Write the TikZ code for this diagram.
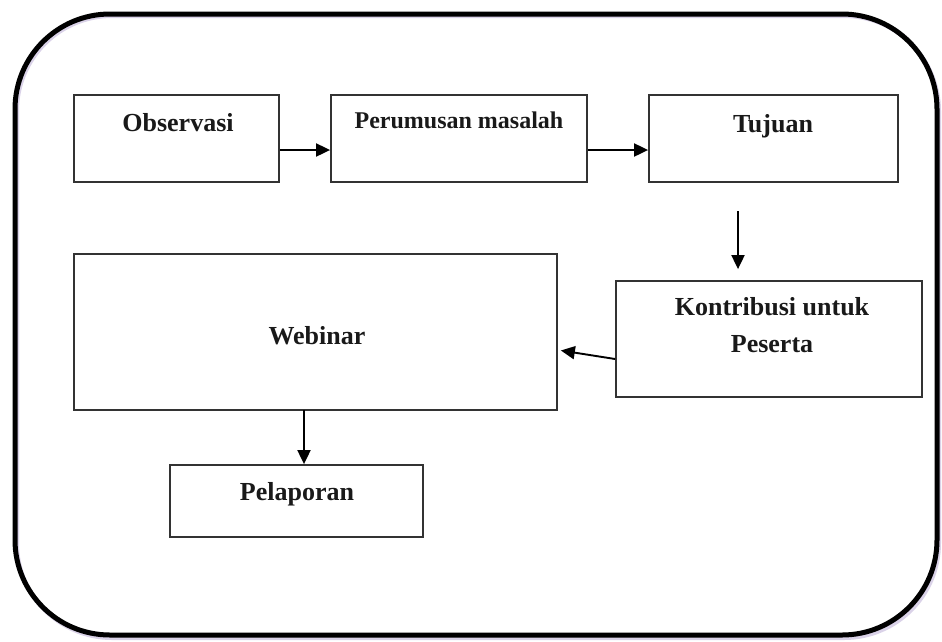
\documentclass[tikz,border=0pt]{standalone}
\usepackage{fontspec}
\setmainfont{Liberation Serif}
\usetikzlibrary{arrows.meta}
\tikzset{
  x=1pt, y=-1pt,
  box/.style={draw=black!80, line width=1.8pt, rectangle, inner sep=0pt},
  txt/.style={font=\bfseries\fontsize{26}{30}\selectfont, anchor=base, inner sep=0pt, text=black!90},
  arr/.style={draw=black, line width=1.9pt, -{Triangle[length=14pt,width=13pt]}},
  frame/.style={draw=black, line width=5pt, rounded corners=95pt},
}
\begin{document}
\begin{tikzpicture}
\useasboundingbox (0,0) rectangle (942,641);
% outer frame with faint shadow
\draw[draw={rgb,255:red,218;green,210;blue,232}, line width=4pt, rounded corners=95pt] (17,16) rectangle (939,638);
\draw[frame] (15,14) rectangle (937,635);
% boxes
\node[box, minimum width=205pt, minimum height=87pt] (obs) at (176.5,138.5) {};
\node[box, minimum width=256pt, minimum height=87pt] (per) at (459,138.5) {};
\node[box, minimum width=249pt, minimum height=87pt] (tuj) at (773.5,138.5) {};
\node[box, minimum width=306pt, minimum height=116pt] (kon) at (769,339) {};
\node[box, minimum width=483pt, minimum height=156pt] (web) at (315.5,332) {};
\node[box, minimum width=253pt, minimum height=72pt] (pel) at (296.5,501) {};
% texts
\node[txt] (obs-t) at (178,131) {Observasi};
\node[txt, font=\bfseries\fontsize{24}{28}\selectfont] (per-t) at (459,128) {Perumusan masalah};
\node[txt] (tuj-t) at (773,132) {Tujuan};
\node[txt] (kon-t1) at (772,315) {Kontribusi untuk};
\node[txt] (kon-t2) at (772,352) {Peserta};
\node[txt] (web-t) at (317,344) {Webinar};
\node[txt] (pel-t) at (297,500) {Pelaporan};
% connectors
\draw[arr] ([yshift=-11.5pt]obs.east) -- ([yshift=-11.5pt]per.west);
\draw[arr] ([yshift=-11.5pt]per.east) -- ([yshift=-11.5pt]tuj.west);
\coordinate (d1) at (738,211);
\draw[arr, shorten >=11pt] (d1) -- (d1 |- kon.north);
\draw[arr, shorten >=3pt] ([yshift=-20pt]kon.west) -- ([yshift=-18pt]web.east);
\coordinate (w1) at (304,410);
\draw[arr] (w1) -- (w1 |- pel.north);
\end{tikzpicture}
\end{document}
